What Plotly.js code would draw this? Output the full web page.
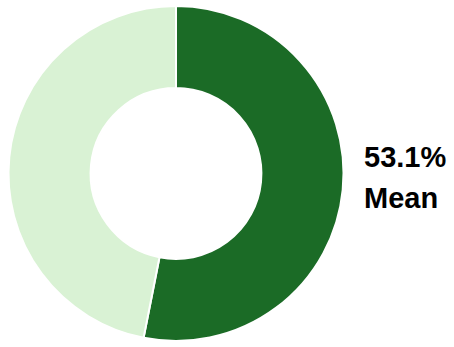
<!DOCTYPE html>
<html>
<head>
<meta charset="utf-8">
<script src="https://cdn.plot.ly/plotly-3.0.1.min.js"></script>
<style>html,body{margin:0;padding:0;background:#fff;}#chart{width:454px;height:347px;}</style>
</head>
<body>
<div id="chart"></div>
<script>
var labels = ["Mean", "Remainder"];
var values = [53.1, 46.9];
var colors = ["#1b6b26", "#d9f2d4"];
var meanLabel = "53.1%";
var meanText = "Mean";

var W = 454, H = 347;
var cx = 176, cy = 173.5, R = 167.5;

var trace = {
  type: "pie",
  labels: labels,
  values: values,
  hole: 0.51,
  sort: false,
  direction: "clockwise",
  rotation: 0,
  textinfo: "none",
  hoverinfo: "none",
  marker: {colors: colors, line: {color: "#ffffff", width: 2}},
  domain: {x: [(cx - R) / W, (cx + R) / W], y: [1 - (cy + R) / H, 1 - (cy - R) / H]}
};

var layout = {
  width: W, height: H,
  margin: {l: 0, r: 0, t: 0, b: 0},
  paper_bgcolor: "#ffffff",
  plot_bgcolor: "#ffffff",
  showlegend: false,
  annotations: [
    {text: "<b>" + meanLabel + "</b>", xref: "paper", yref: "paper", x: 362 / W, y: 1 - 157 / H,
     xanchor: "left", yanchor: "middle", showarrow: false,
     font: {family: "Liberation Sans, Arial, sans-serif", size: 29, color: "#000000"}},
    {text: "<b>" + meanText + "</b>", xref: "paper", yref: "paper", x: 362 / W, y: 1 - 198 / H,
     xanchor: "left", yanchor: "middle", showarrow: false,
     font: {family: "Liberation Sans, Arial, sans-serif", size: 29, color: "#000000"}}
  ]
};

Plotly.newPlot("chart", [trace], layout, {displayModeBar: false, staticPlot: true});
</script>
</body>
</html>
